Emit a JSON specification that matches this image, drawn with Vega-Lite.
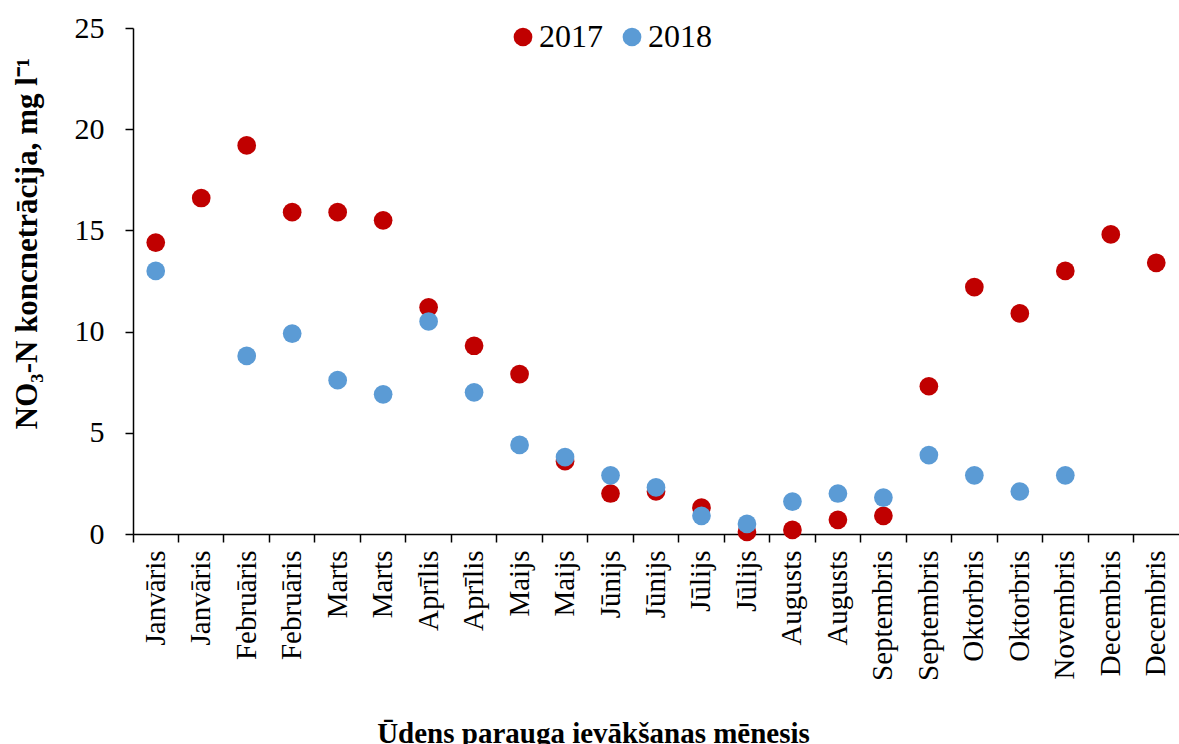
{
  "$schema": "https://vega.github.io/schema/vega-lite/v6.json",
  "width": 1046,
  "height": 506,
  "autosize": {"type": "none"},
  "padding": {"left": 133, "top": 28, "right": 0, "bottom": 210},
  "background": "white",
  "config": {
    "font": "Liberation Serif",
    "view": {"stroke": null}
  },
  "data": {
    "values": [
      {"cat": "01 Janvāris", "year": "2017", "value": 14.4},
      {"cat": "02 Janvāris", "year": "2017", "value": 16.6},
      {"cat": "03 Februāris", "year": "2017", "value": 19.2},
      {"cat": "04 Februāris", "year": "2017", "value": 15.9},
      {"cat": "05 Marts", "year": "2017", "value": 15.9},
      {"cat": "06 Marts", "year": "2017", "value": 15.5},
      {"cat": "07 Aprīlis", "year": "2017", "value": 11.2},
      {"cat": "08 Aprīlis", "year": "2017", "value": 9.3},
      {"cat": "09 Maijs", "year": "2017", "value": 7.9},
      {"cat": "10 Maijs", "year": "2017", "value": 3.6},
      {"cat": "11 Jūnijs", "year": "2017", "value": 2.0},
      {"cat": "12 Jūnijs", "year": "2017", "value": 2.1},
      {"cat": "13 Jūlijs", "year": "2017", "value": 1.3},
      {"cat": "14 Jūlijs", "year": "2017", "value": 0.1},
      {"cat": "15 Augusts", "year": "2017", "value": 0.2},
      {"cat": "16 Augusts", "year": "2017", "value": 0.7},
      {"cat": "17 Septembris", "year": "2017", "value": 0.9},
      {"cat": "18 Septembris", "year": "2017", "value": 7.3},
      {"cat": "19 Oktorbris", "year": "2017", "value": 12.2},
      {"cat": "20 Oktorbris", "year": "2017", "value": 10.9},
      {"cat": "21 Novembris", "year": "2017", "value": 13.0},
      {"cat": "22 Decembris", "year": "2017", "value": 14.8},
      {"cat": "23 Decembris", "year": "2017", "value": 13.4},
      {"cat": "01 Janvāris", "year": "2018", "value": 13.0},
      {"cat": "03 Februāris", "year": "2018", "value": 8.8},
      {"cat": "04 Februāris", "year": "2018", "value": 9.9},
      {"cat": "05 Marts", "year": "2018", "value": 7.6},
      {"cat": "06 Marts", "year": "2018", "value": 6.9},
      {"cat": "07 Aprīlis", "year": "2018", "value": 10.5},
      {"cat": "08 Aprīlis", "year": "2018", "value": 7.0},
      {"cat": "09 Maijs", "year": "2018", "value": 4.4},
      {"cat": "10 Maijs", "year": "2018", "value": 3.8},
      {"cat": "11 Jūnijs", "year": "2018", "value": 2.9},
      {"cat": "12 Jūnijs", "year": "2018", "value": 2.3},
      {"cat": "13 Jūlijs", "year": "2018", "value": 0.9},
      {"cat": "14 Jūlijs", "year": "2018", "value": 0.5},
      {"cat": "15 Augusts", "year": "2018", "value": 1.6},
      {"cat": "16 Augusts", "year": "2018", "value": 2.0},
      {"cat": "17 Septembris", "year": "2018", "value": 1.8},
      {"cat": "18 Septembris", "year": "2018", "value": 3.9},
      {"cat": "19 Oktorbris", "year": "2018", "value": 2.9},
      {"cat": "20 Oktorbris", "year": "2018", "value": 2.1},
      {"cat": "21 Novembris", "year": "2018", "value": 2.9}
    ]
  },
  "mark": {"type": "point", "filled": true, "size": 350, "opacity": 1},
  "encoding": {
    "x": {
      "field": "cat",
      "type": "ordinal",
      "sort": "ascending",
      "scale": {"type": "band", "paddingInner": 0, "paddingOuter": 0},
      "axis": {
        "title": "Ūdens parauga ievākšanas mēnesis",
        "titleFontSize": 29,
        "titleFontWeight": "bold",
        "titleColor": "black",
        "titleX": 460,
        "titleY": 185,
        "titleAnchor": "middle",
        "labelExpr": "slice(datum.value, 3)",
        "labelAngle": -90,
        "labelAlign": "right",
        "labelBaseline": "middle",
        "labelFontSize": 29,
        "labelColor": "black",
        "labelPadding": 8,
        "labelOverlap": false,
        "bandPosition": 0,
        "tickSize": 8,
        "tickColor": "black",
        "tickWidth": 1.5,
        "domainColor": "black",
        "domainWidth": 1.5,
        "grid": false
      }
    },
    "y": {
      "field": "value",
      "type": "quantitative",
      "scale": {"domain": [0, 25], "nice": false, "zero": true},
      "axis": {
        "title": "NO₃-N koncnetrācija, mg l⁻¹",
        "titleFontSize": 31,
        "titleFontWeight": "bold",
        "titleColor": "black",
        "titleX": -90,
        "titleY": 215,
        "titleAlign": "center",
        "values": [0, 5, 10, 15, 20, 25],
        "labelFontSize": 30,
        "labelColor": "black",
        "labelPadding": 21,
        "tickSize": 8,
        "tickColor": "black",
        "tickWidth": 1.5,
        "domainColor": "black",
        "domainWidth": 1.5,
        "grid": false
      }
    },
    "color": {
      "field": "year",
      "type": "nominal",
      "scale": {"domain": ["2017", "2018"], "range": ["#C00000", "#5B9BD5"]},
      "legend": {
        "title": null,
        "orient": "none",
        "direction": "horizontal",
        "legendX": 374,
        "legendY": -7,
        "symbolType": "circle",
        "symbolSize": 350,
        "labelFontSize": 32,
        "labelColor": "black",
        "labelOffset": 0,
        "columnPadding": 13
      }
    }
  }
}
